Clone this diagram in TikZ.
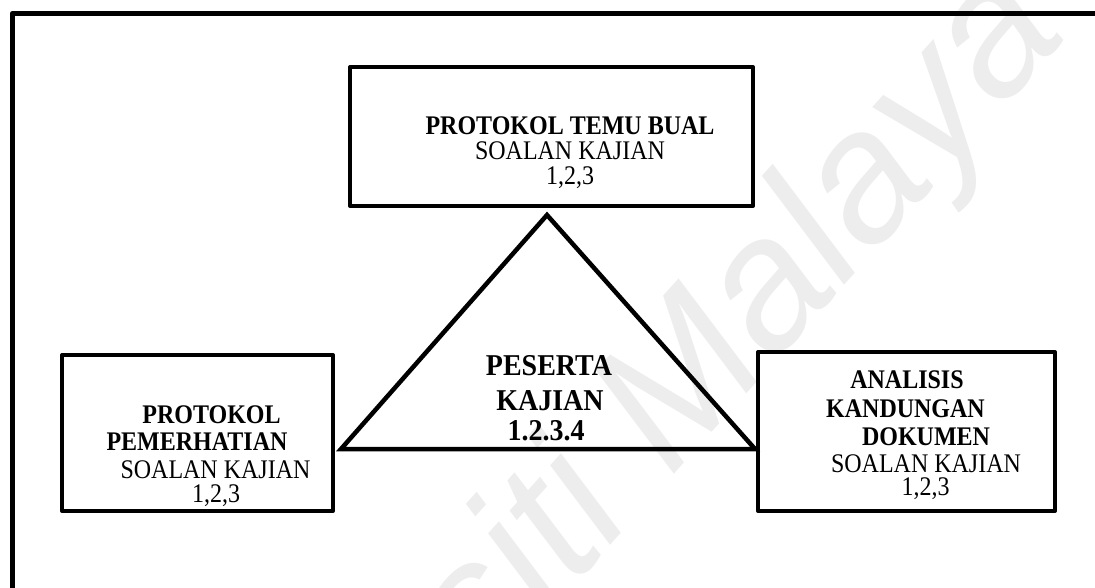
\documentclass[tikz,border=0pt]{standalone}
\usepackage{fontspec}
\setmainfont{Liberation Serif}
\newfontfamily\wmfont{Liberation Sans}
% slightly tall lettering, as set in the printed figure
\newcommand\tallline[1]{\scalebox{1}[1.12]{#1}}
\newcommand\tallbig[1]{\scalebox{1}[1.08]{#1}}
\begin{document}
\begin{tikzpicture}[x=1pt,y=-1pt,
  box/.style={draw, line width=4pt, line join=round, inner sep=0pt, fill=none},
  hd/.style={anchor=base, inner sep=0pt, font=\fontsize{24}{28}\selectfont\bfseries},
  tx/.style={anchor=base, inner sep=0pt, font=\fontsize{24}{28}\selectfont},
  big/.style={anchor=base, inner sep=0pt, font=\fontsize{28}{32}\selectfont\bfseries},
]
\useasboundingbox (0,0) rectangle (1095,587);
\clip (0,0) rectangle (1095,587);

% faint watermark behind the drawing
\node[rotate=48, anchor=base east, inner sep=0pt, text=black!7,
      font=\wmfont\itshape\fontsize{185}{185}\selectfont] (wm) at (1070,35) {Universiti Malaya};

% outer frame (runs past the right and bottom edges)
\draw[line width=5.5pt, line join=round] (12.5,13.5) rectangle (1200,700);

% three instrument boxes
\node[box, minimum width=403pt, minimum height=139pt] (top) at (551.5,136.5) {};
\node[box, minimum width=271pt, minimum height=156pt] (left) at (197.5,433) {};
\node[box, minimum width=297pt, minimum height=159pt] (right) at (906.5,431.5) {};

% central triangle
\coordinate (apex) at (547,215);
\coordinate (bl) at (341,449);
\coordinate (br) at (755,449);
\draw[line width=4.5pt] (apex) -- (bl) -- (br) -- cycle;

% top box text
\node[hd] (t1) at (570,134) {\tallline{PROTOKOL TEMU BUAL}};
\node[tx] (t2) at (570,159) {\tallline{SOALAN KAJIAN}};
\node[tx] (t3) at (570,184) {\tallline{1,2,3}};

% triangle text
\node[big] (c1) at (549,375) {\tallbig{PESERTA}};
\node[big] (c2) at (550,410) {\tallbig{KAJIAN}};
\node[big] (c3) at (546,440) {\tallbig{1.2.3.4}};

% left box text
\node[hd] (l1) at (211.5,423) {\tallline{PROTOKOL}};
\node[hd] (l2) at (197,450) {\tallline{PEMERHATIAN}};
\node[tx] (l3) at (215.5,478) {\tallline{SOALAN KAJIAN}};
\node[tx] (l4) at (216,502) {\tallline{1,2,3}};

% right box text
\node[hd] (r1) at (907,388) {\tallline{ANALISIS}};
\node[hd] (r2) at (905.5,417) {\tallline{KANDUNGAN}};
\node[hd] (r3) at (926,445) {\tallline{DOKUMEN}};
\node[tx] (r4) at (926,472) {\tallline{SOALAN KAJIAN}};
\node[tx] (r5) at (925.5,495) {\tallline{1,2,3}};
\end{tikzpicture}
\end{document}
